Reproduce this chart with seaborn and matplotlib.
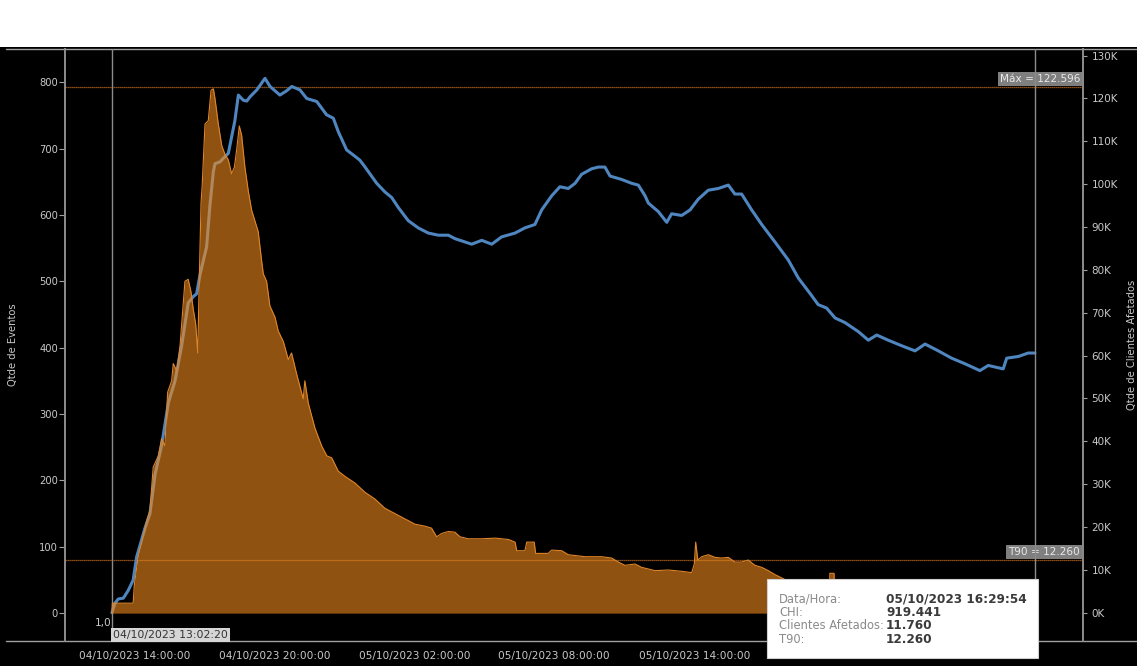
import pandas as pd
import numpy as np
import seaborn as sns
import matplotlib.pyplot as plt
import matplotlib.dates as mdates
from matplotlib.ticker import FuncFormatter
from matplotlib.patches import Rectangle
from matplotlib.lines import Line2D

# Eventos (horas desde 04/10/2023 00:00) -> eixo esquerdo
ev_horas = [13.04, 13.06, 13.95, 14.00, 14.17, 14.39, 14.53, 14.67, 14.81, 15.03,
            15.17, 15.31, 15.43, 15.60, 15.67, 15.82, 15.96, 16.17, 16.31, 16.43,
            16.53, 16.63, 16.72, 16.77, 16.86, 16.91, 17.03, 17.17, 17.29, 17.39,
            17.46, 17.60, 17.75, 17.89, 18.03, 18.17, 18.29, 18.39, 18.50, 18.60,
            18.74, 18.89, 19.03, 19.17, 19.31, 19.46, 19.53, 19.67, 19.81, 20.03,
            20.17, 20.39, 20.60, 20.74, 20.96, 21.24, 21.31, 21.46, 21.74, 22.03,
            22.25, 22.46, 22.74, 23.03, 23.46, 23.89, 24.31, 24.74, 25.17, 25.60,
            26.03, 26.46, 26.74, 26.96, 27.17, 27.46, 27.74, 27.96, 28.31, 28.89,
            29.46, 30.03, 30.32, 30.39, 30.74, 30.82, 31.14, 31.20, 31.74, 31.89,
            32.32, 32.60, 33.32, 34.03, 34.46, 34.74, 35.03, 35.46, 35.74, 36.32,
            36.89, 37.46, 37.89, 38.00, 38.06, 38.15, 38.32, 38.60, 38.89, 39.17,
            39.46, 39.74, 40.03, 40.31, 40.60, 40.89, 41.17, 41.46, 41.75, 42.02,
            42.53, 43.39, 43.80, 43.81, 43.99, 44.00, 45.53, 47.67, 50.24, 52.60]
ev_qtde = [0, 15, 15, 42, 86, 118, 139, 155, 220, 237,
           263, 252, 333, 350, 376, 365, 403, 500, 503, 484,
           457, 436, 392, 480, 618, 645, 737, 742, 788, 790,
           775, 737, 704, 691, 683, 662, 672, 699, 734, 720,
           672, 635, 607, 591, 575, 530, 511, 500, 463, 446,
           425, 409, 382, 392, 360, 323, 350, 316, 279, 252,
           237, 234, 214, 206, 196, 182, 172, 158, 150, 142,
           134, 131, 128, 115, 120, 123, 122, 115, 112, 112,
           113, 111, 107, 94, 94, 107, 107, 90, 90, 95,
           94, 88, 85, 85, 83, 77, 72, 74, 69, 64,
           65, 63, 61, 74, 107, 80, 85, 88, 84, 83,
           84, 77, 77, 80, 72, 69, 64, 58, 53, 48,
           45, 42, 40, 60, 60, 40, 35, 30, 25, 20]

# Clientes afetados (milhares) -> eixo direito
cli_horas = [13.04, 13.17, 13.31, 13.53, 13.74, 13.95, 14.10, 14.46, 14.67, 14.89,
             15.17, 15.46, 15.74, 16.03, 16.31, 16.53, 16.67, 16.82, 17.10, 17.24,
             17.39, 17.46, 17.67, 17.81, 18.03, 18.17, 18.31, 18.46, 18.67, 18.82,
             18.96, 19.25, 19.60, 19.82, 20.24, 20.53, 20.75, 21.10, 21.39, 21.82,
             22.24, 22.53, 22.74, 23.10, 23.46, 23.67, 23.89, 24.39, 24.74, 25.03,
             25.31, 25.74, 26.17, 26.60, 27.03, 27.46, 27.74, 28.46, 28.89, 29.32,
             29.74, 30.32, 30.74, 31.17, 31.46, 31.89, 32.24, 32.60, 32.89, 33.17,
             33.60, 33.89, 34.17, 34.39, 34.89, 35.32, 35.60, 35.89, 36.03, 36.46,
             36.82, 37.03, 37.46, 37.82, 38.17, 38.60, 39.03, 39.46, 39.74, 40.03,
             40.46, 40.89, 41.46, 42.03, 42.46, 43.03, 43.31, 43.67, 44.03, 44.46,
             45.03, 45.46, 45.82, 46.31, 46.89, 47.46, 47.89, 48.46, 49.03, 49.60,
             50.24, 50.60, 51.24, 51.39, 51.89, 52.31, 52.60]
cli_qtde = [0, 2.2, 3.2, 3.4, 5.2, 7.6, 13.0, 19.8, 23.1, 32.3,
            39.0, 49.0, 54.0, 62.3, 72.3, 73.8, 74.4, 79.0, 85.4, 95.0,
            103.0, 104.8, 105.2, 106.0, 107.2, 111.0, 114.8, 120.8, 119.6, 119.4,
            120.4, 122.0, 124.7, 122.8, 120.8, 121.8, 122.8, 122.0, 120.0, 119.3,
            116.2, 115.4, 112.3, 108.0, 106.5, 105.6, 104.0, 100.2, 98.2, 96.9,
            94.6, 91.5, 89.8, 88.6, 88.1, 88.1, 87.3, 86.0, 86.9, 86.0,
            87.7, 88.6, 89.8, 90.6, 94.0, 97.3, 99.4, 99.0, 100.2, 102.3,
            103.6, 104.0, 104.0, 101.9, 101.1, 100.2, 99.8, 97.3, 95.6, 93.6,
            91.1, 93.1, 92.7, 94.0, 96.5, 98.6, 99.0, 99.8, 97.7, 97.7,
            94.0, 90.6, 86.5, 82.3, 78.1, 74.0, 71.9, 71.1, 68.8, 67.7,
            65.6, 63.6, 64.8, 63.6, 62.3, 61.1, 62.7, 61.1, 59.4, 58.1,
            56.5, 57.7, 56.9, 59.4, 59.8, 60.6, 60.6]

base = pd.Timestamp('2023-10-04 00:00:00')
inicio = pd.Timestamp('2023-10-04 13:02:20')
fim = pd.Timestamp('2023-10-06 04:36:00')
maximo = 122.596
t90 = 12.260

# rotulos do eixo x visiveis (os demais ficam atras do tooltip)
ticks_x = pd.to_datetime(['2023-10-04 14:00', '2023-10-04 20:00', '2023-10-05 02:00',
                          '2023-10-05 08:00', '2023-10-05 14:00'])

tooltip_rotulos = ['Data/Hora:', 'CHI:', 'Clientes Afetados:', 'T90:']
tooltip_valores = ['05/10/2023 16:29:54', '919.441', '11.760', '12.260']

eventos = pd.DataFrame({'data': base + pd.to_timedelta(ev_horas, unit='h'), 'qtde': ev_qtde})
clientes = pd.DataFrame({'data': base + pd.to_timedelta(cli_horas, unit='h'), 'qtde': cli_qtde})

sns.set_theme(style='dark')
plt.rcParams['font.family'] = ['DejaVu Sans']

W, H = 1137, 666
txt = '#c8c8c8'
cinza = '#8c8c8c'

fig = plt.figure(figsize=(W / 100, H / 100), dpi=100, facecolor='black')
ax = fig.add_axes([65 / W, 1 - 641 / H, (1083 - 65) / W, (641 - 49) / H])
ax2 = ax.twinx()
ax.set_zorder(ax2.get_zorder() + 1)
ax.patch.set_visible(False)
ax2.set_facecolor('black')

# faixa branca no topo e linhas da moldura
fig.add_artist(Rectangle((0, 1 - 47 / H), 1, 47 / H, transform=fig.transFigure,
                         fc='white', ec='none', zorder=-1))
for yy in (49, 641):
    fig.add_artist(Line2D([6 / W, 1], [1 - yy / H] * 2, transform=fig.transFigure,
                          color='#a0a0a0', lw=1, zorder=1))

# clientes (linha azul)
sns.lineplot(data=clientes, x='data', y='qtde', ax=ax2, color='#4f86c0', lw=2.2)

# eventos (area laranja)
ax.fill_between(eventos['data'], eventos['qtde'], 0, color='#f08a1c', alpha=0.6, lw=0)
sns.lineplot(data=eventos, x='data', y='qtde', ax=ax, color='#e0852a', lw=0.8)

ax.set_xlim(base + pd.Timedelta(hours=11.03), base + pd.Timedelta(hours=54.66))
ax.set_ylim(-42, 850)
ax2.set_ylim(-6.6, 131.55)

ax.set_yticks(range(0, 801, 100))
ax2.set_yticks(range(0, 131, 10))
ax2.yaxis.set_major_formatter(FuncFormatter(lambda v, p: f'{v:.0f}K'))

ax.set_xticks(ticks_x)
ax.xaxis.set_minor_locator(mdates.HourLocator())
ax.xaxis.set_major_formatter(mdates.DateFormatter('%d/%m/%Y %H:%M:%S'))

ax.tick_params(axis='y', colors='#a0a0a0', labelcolor=txt, labelsize=7.2, length=4, width=0.8, pad=1)
ax2.tick_params(axis='y', colors='#a0a0a0', labelcolor=txt, labelsize=7.5, length=3, width=0.8, pad=3)
ax.tick_params(axis='x', which='major', colors='#a0a0a0', labelcolor=txt, labelsize=7.6,
               length=4, width=0.8, pad=3)
ax.tick_params(axis='x', which='minor', colors='#a0a0a0', length=2, width=0.6)
ax2.tick_params(axis='x', bottom=False, labelbottom=False)

for a in (ax, ax2):
    a.grid(False)
    a.spines['top'].set_visible(False)
    a.spines['bottom'].set_visible(False)
    a.spines['left'].set_color(cinza)
    a.spines['right'].set_color(cinza)
    a.set_xlabel('')

ax.set_ylabel('Qtde de Eventos', color=txt, fontsize=7.2)
ax.yaxis.set_label_coords((18 - 65) / 1018, 0.5)
ax2.set_ylabel('Qtde de Clientes Afetados', color=txt, fontsize=7.2, rotation=90)
ax2.yaxis.set_label_coords((1127 - 65) / 1018, 0.5)

# linhas de referencia
for val in (maximo, t90):
    ax2.axhline(val, color='#b8661c', lw=0.9, ls=(0, (1, 0.6)), zorder=1)
caixa = dict(boxstyle='square,pad=0.18', fc='#7f7f7f', ec='none')
ax2.text(1 - 3 / 1018, maximo + 0.8, f'Máx = {maximo:.3f}', transform=ax2.get_yaxis_transform(),
         ha='right', va='bottom', fontsize=7.6, color='#e8e8e8', bbox=caixa, zorder=5)
ax2.text(1 - 3 / 1018, t90 + 0.8, f'T90 = {t90:.3f}', transform=ax2.get_yaxis_transform(),
         ha='right', va='bottom', fontsize=7.6, color='#e8e8e8', bbox=caixa, zorder=5)

ax.axvline(inicio, color=cinza, lw=1, zorder=0)
ax.axvline(fim, color=cinza, lw=1, zorder=0)

ax.text(inicio, -15, '1,0', ha='right', va='center', fontsize=7.6, color=txt)
ax.text(inicio + pd.Timedelta(minutes=3), -33, inicio.strftime('%d/%m/%Y %H:%M:%S'),
        ha='left', va='center', fontsize=7.8, color='#333333',
        bbox=dict(boxstyle='square,pad=0.15', fc='#d6d6d6', ec='none'))

# tooltip
fig.add_artist(Rectangle((767 / W, 1 - 658 / H), (1038 - 767) / W, (658 - 579) / H,
                         transform=fig.transFigure, fc='white', ec='#d0d0d0', lw=0.8, zorder=10))
for i, (rot, val) in enumerate(zip(tooltip_rotulos, tooltip_valores)):
    yy = 1 - (598.5 + i * 13.7) / H
    fig.text(779 / W, yy, rot, fontsize=8.3, color='#8a8a8a', va='center', zorder=11)
    fig.text(886 / W, yy, val, fontsize=8.7, color='#3a3a3a', fontweight='bold', va='center', zorder=11)

fig.savefig('out.png', dpi=100, facecolor='black')
